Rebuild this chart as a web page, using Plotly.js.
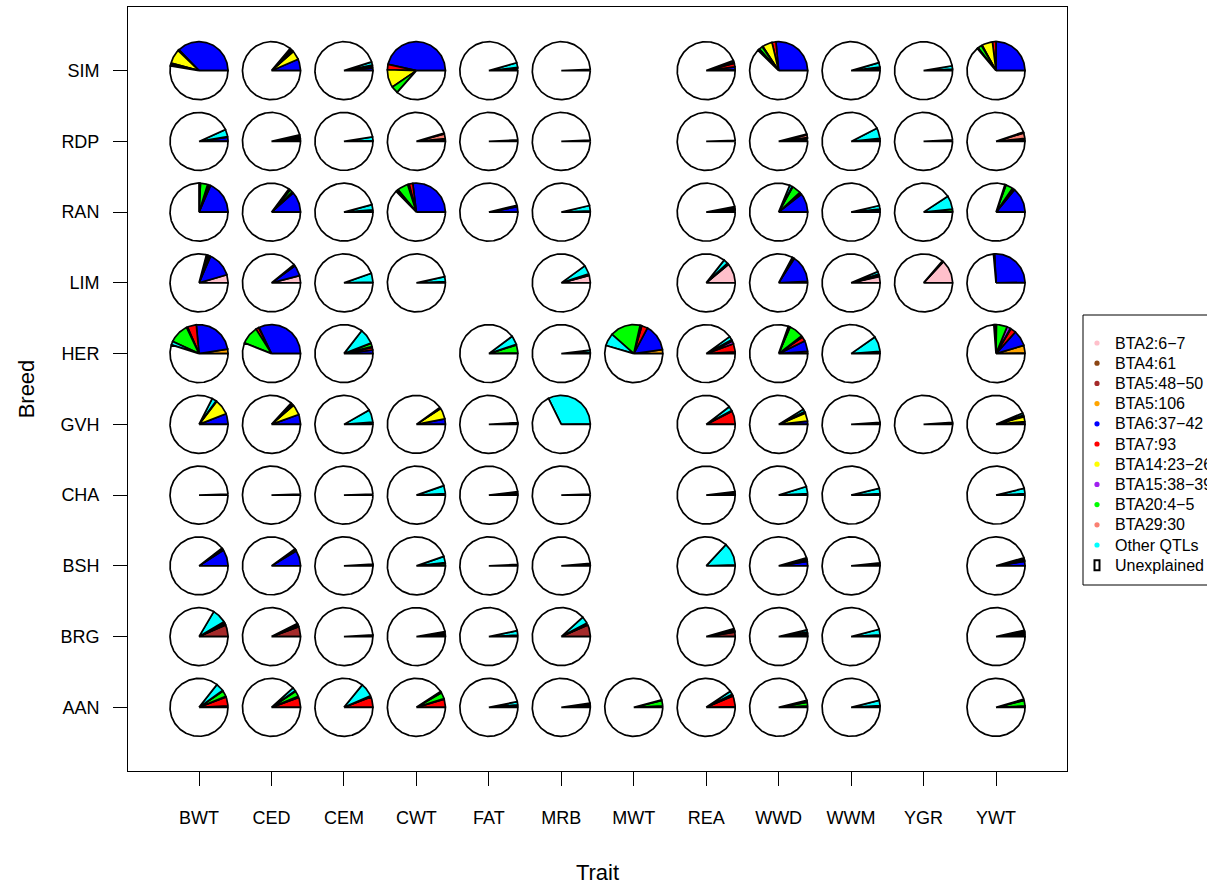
<!DOCTYPE html>
<html>
<head>
<meta charset="utf-8">
<script src="https://cdn.plot.ly/plotly-3.0.1.min.js"></script>
<style>html,body{margin:0;padding:0;background:#fff;}#chart{width:1207px;height:885px;}</style>
</head>
<body>
<div id="chart"></div>
<script>
// ---------------- DATA ----------------
const traits = ['BWT','CED','CEM','CWT','FAT','MRB','MWT','REA','WWD','WWM','YGR','YWT'];
const breeds = ['SIM','RDP','RAN','LIM','HER','GVH','CHA','BSH','BRG','AAN']; // top to bottom
const qtlNames = ['BTA2:6\u22127','BTA4:61','BTA5:48\u221250','BTA5:106','BTA6:37\u221242','BTA7:93',
                  'BTA14:23\u221226','BTA15:38\u221239','BTA20:4\u22125','BTA29:30','Other QTLs','Unexplained'];
const qtlColors = ['#FFC0CB','#8B4513','#A52A2A','#FFA500','#0000FF','#FF0000',
                   '#FFFF00','#A020F0','#00FF00','#FA8072','#00FFFF','#FFFFFF'];

// 1 = breed x trait combination analysed (pie drawn)
//              BWT CED CEM CWT FAT MRB MWT REA WWD WWM YGR YWT
const analysed = [
  [1,1,1,1,1,1,0,1,1,1,1,1], // SIM
  [1,1,1,1,1,1,0,1,1,1,1,1], // RDP
  [1,1,1,1,1,1,0,1,1,1,1,1], // RAN
  [1,1,1,1,0,1,0,1,1,1,1,1], // LIM
  [1,1,1,0,1,1,1,1,1,1,0,1], // HER
  [1,1,1,1,1,1,0,1,1,1,1,1], // GVH
  [1,1,1,1,1,1,0,1,1,1,0,1], // CHA
  [1,1,1,1,1,1,0,1,1,1,0,1], // BSH
  [1,1,1,1,1,1,0,1,1,1,0,1], // BRG
  [1,1,1,1,1,1,1,1,1,1,0,1]  // AAN
];

// % of genetic variance explained, rows = breeds (SIM..AAN), cols = traits
const BTA2_6_7 = [
  [0,0,0,0,0,0,0,0.3,0,0,0,0],
  [0,0,0,0,0,0,0,0,0,0,0,0],
  [0,0,0,0,0,0,0,0,0,0,0,0],
  [4.5,4.0,0,0,0,4.2,0,11.0,0.4,3.5,13.0,0.3],
  [0,0,0,0,0,0,0,0,0,0,0,0],
  [0,0,0,0,0,0,0,0,0,0,0,0],
  [0,0,0,0,0,0,0,0,0,0,0,0],
  [0,0,0,0,0,0,0,0,0,0,0,0],
  [0,0,0,0,0,0,0,0,0,0,0,0],
  [0,0,0,0,0,0,0,0,0,0,0,0]
];
const BTA4_61 = [
  [0,0,0,0,0.4,0,0,0,0,0,0,0],
  [0,0.4,0,0,0,0,0,0,0.4,0,0,0],
  [0,0,0,0,0,0,0,0.4,0,0,0,0],
  [0,0,0,0,0,0,0,0,0,0,0,0],
  [0,0,0,0,0,0,0,0,0,0,0,0.4],
  [0,0,0,0,0,0,0,0,0,0,0,0],
  [0,0,0,0,0,0,0,0,0,0,0,0],
  [0,0,0,0,0,0,0,0,0,0,0,0],
  [0,0,0,0,0,0,0,0,0,0,0,0],
  [0.4,0,0,0,0,0,0,0.4,0,0,0,0]
];
const BTA5_48_50 = [
  [0,0,0,0,0,0,0,0.3,0,0,0,0],
  [0,0,0,0,0,0,0,0,0.4,0,0,0.4],
  [0,0,0,0,0,0,0,0.4,0,0,0,0],
  [0,0,0,0,0,0,0,0,0,0,0,0],
  [0,0,0,0,0,0,0,0,0,0,0,0],
  [0,0,0,0,0,0,0,0,0,0,0,0],
  [0,0,0,0,0,0,0,0,0,0,0,0],
  [0,0,0,0,0,0,0,0,0,0,0,0],
  [6.5,5.5,0,0,0,6.5,0,2.5,0,0,0,0],
  [0,0,0,0,0,0,0,0,0,0,0,0]
];
const BTA5_106 = [
  [0,0,0,0,0,0,0,0,0,0,0,0],
  [0.3,0,0,0,0,0,0,0,0.4,0,0,0.5],
  [0,0,0,0,0,0,0,0,0,0,0,0],
  [0,0,0,0,0,0,0,0,0.4,0,0,0],
  [2.5,0,0,0,0,0,2.2,0.4,1.2,0,0,4.2],
  [0,0,0,0,0,0,0,0,0,0,0,0],
  [0,0,0,0,0,0,0,0,0,0,0,0],
  [0,0,0,0,0,0,0,0,0,0,0,0],
  [0,0,0,0,0,0,0,0,0,0,0,0],
  [0.4,0,0,0,0,0,0,0,0,0,0,0]
];
const BTA6_37_42 = [
  [37.2,6.5,1.5,46.5,0.4,0,0,1.5,26.5,0.4,0.4,25.0],
  [2.0,0.8,0,0.8,0,0,0,0,0.4,0.5,0,0.4],
  [18.5,11.5,0.8,27.0,3.0,0.3,0,0.5,10.5,1.2,0.5,14.0],
  [14.0,6.0,0,0.3,0,0.4,0,0.5,15.0,0.5,0,25.5],
  [24.0,32.0,2.0,0,0.4,0,15.0,0.6,6.0,0.3,0,8.8],
  [6.0,5.5,0.3,3.0,0,0,0,0,1.8,0,0,1.2],
  [0,0,0,0,0,0,0,0,0,0,0,0],
  [9.0,8.5,0,0,0,0,0,0,2.5,0.3,0,2.5],
  [0.5,0.5,0,0.4,0,0.4,0,0.5,0.5,0,0,0.8],
  [0,0,0,0,0.4,0.4,0.4,0,0,0,0,0]
];
const BTA7_93 = [
  [0.6,0,0.4,3.0,0,0,0,2.0,2.2,0,0,2.0],
  [0,0,0,0,0,0,0,0,0,0,0,0],
  [1.0,0.4,0,2.0,0,0,0,0,1.0,0,0,1.0],
  [0.4,0,0,0,0,0,0,0,0.5,0,0,0],
  [5.0,2.0,1.5,0,0,0,3.3,4.5,2.5,0,0,3.0],
  [0,0,0,0,0,0,0,7.5,0,0,0,0],
  [0,0,0,0,0,0,0,0,0,0,0,0],
  [0,0,0,0,0,0,0,0,0,0,0,0],
  [0,0,0,0,0,0,0,0,0,0,0,0.4],
  [5.0,5.5,5.8,4.5,0,0,0.4,6.0,0.4,0,0,0.8]
];
const BTA14_23_26 = [
  [8.0,5.0,0.4,10.0,0.4,0,0,0,5.5,1.0,0,6.0],
  [0,0.4,0,0,0,0,0,0,0,0,0,0],
  [0.4,0.4,0,0.5,0,0,0,0,0.4,0,0,0.4],
  [1.0,0.4,0,0,0,0.4,0,0,0,0.5,0,0],
  [0.3,0,0,0,0,0,0.5,0,0.4,0,0,0.4],
  [8.5,5.8,0,6.2,0,0,0,0,4.5,0,0,3.0],
  [0,0,0,0,0,0,0,0,0,0,0,0],
  [0,0,0,0,0,0,0,0,0,0,0,0],
  [0.5,0.5,0,0.8,0,0,0,0,1.0,0,0,0.8],
  [0.4,0.4,0.4,0.4,0,0,0,0,0.4,0,0,0]
];
const BTA15_38_39 = [
  [0.4,0.4,0,0,0,0,0,0,0.4,0,0,0.4],
  [0,0,0,0,0,0,0,0,0,0,0,0],
  [0.3,0,0,0.4,0,0,0,0,0,0,0,0],
  [0,0,0,0,0,0,0,0,0,0,0,0],
  [0.3,0,0.4,0,0,0,0.5,1.5,0.4,0,0,2.0],
  [0,0,0,0,0,0,0,0,0,0,0,0],
  [0,0,0,0,0,0,0,0,0,0,0,0],
  [0,0,0,0,0,0,0,0,0,0,0,0],
  [0,0,0,0,0,0,0,0,0,0,0,0],
  [0,0.4,0,0,0,0,0,0,0,0,0,0]
];
const BTA20_4_5 = [
  [0.6,0.8,0.8,4.0,0.6,0.4,0,0.6,2.0,0.6,0.5,2.2],
  [0.4,0.6,0.5,0.4,0.4,0.4,0,0.4,0.5,0.8,0.4,0.4],
  [4.0,1.5,0.4,6.0,0.4,0.4,0,0.6,5.0,0.5,1.2,4.0],
  [0.5,0,0.4,0.4,0,0,0,0.4,0.4,0.4,0.3,0.3],
  [11.0,10.0,1.8,0,4.5,0.5,17.0,0.6,8.0,0.5,0,6.0],
  [0.5,0.6,0.5,0.4,0.5,0.3,0,0.4,0.6,0.6,0.6,0.6],
  [0.3,0.3,0.3,0.4,0.5,0.3,0,0.5,0.4,0.4,0,0.4],
  [0.5,0.5,0.5,1.2,0.4,0.3,0,0.3,0.6,0.5,0,0.6],
  [0.5,0.5,0.4,0.4,0.4,0.4,0,0.5,0.5,0.5,0,0.5],
  [3.3,3.0,0.4,3.5,0.6,0.6,3.0,0.5,2.0,0.4,0,3.0]
];
const BTA29_30 = [
  [0,0.4,0,0,0,0,0,0,0.4,0,0,0],
  [0,0.4,0,3.0,0,0,0,0,1.5,0.4,0,3.0],
  [0.3,0.4,0,0.6,0,0,0,0.4,0.4,0,0,0],
  [0,0,0,0,0,0,0,0,0,0,0,0],
  [0,0,0.3,0,0.3,0.3,0,0.4,0.3,0.4,0,0.4],
  [0,0.3,0.4,0,0,0,0,0,0.4,0,0,0.4],
  [0,0,0,0.4,0.4,0,0,0.4,0.4,0.4,0,0.4],
  [0.5,0.5,0,0.6,0,0.3,0,0.3,0.6,0.4,0,0.6],
  [0.5,0.5,0,0.4,0.4,0.4,0,0.5,0.5,0.4,0,0.5],
  [0.4,0.4,0,0.4,0.4,0.5,0.4,0.5,0.5,0.5,0,0.4]
];
const OTHER_QTLS = [
  [0.6,0.8,1.8,0,2.6,0.3,0,1.0,0.6,2.5,1.8,0.6],
  [4.0,1.0,2.0,0.4,0.4,0.3,0,0.2,0.5,5.8,0.4,0.6],
  [0.5,0.6,3.0,0.8,0.4,3.0,0,0.8,1.5,2.0,7.5,0.6],
  [0.5,0.5,5.0,2.8,0,5.0,0,2.5,0.5,1.5,0.4,0.3],
  [2.0,0,8.5,0,5.0,1.2,7.0,2.0,0.8,8.5,0,1.0],
  [2.5,1.0,7.0,0.4,0.5,32.0,0,2.5,1.5,0.5,0.5,1.2],
  [0.3,0.3,0.3,4.5,1.0,0.3,0,1.0,4.0,3.0,0,3.0],
  [0.5,0.5,0.5,3.5,0.4,0.8,0,12.5,0.8,0.5,0,0.8],
  [8.0,0,0.5,0.8,2.5,4.0,0,0.4,1.2,3.2,0,0.5],
  [4.5,2.0,7.5,0.5,1.8,0.8,0,2.0,0.6,3.0,0,0.4]
];
const qtlSeries = [BTA2_6_7,BTA4_61,BTA5_48_50,BTA5_106,BTA6_37_42,BTA7_93,
                   BTA14_23_26,BTA15_38_39,BTA20_4_5,BTA29_30,OTHER_QTLS];

// ---------------- LAYOUT GEOMETRY ----------------
const W = 1207, H = 885;
const M = {l:128, r:140, t:7, b:114};
const xRange = [0.02, 12.98], yRange = [0.1, 10.9];
const pw = W - M.l - M.r, ph = H - M.t - M.b;
const pieR = 0.4;                                     // radius in x-axis units
const rY = pieR * (pw/(xRange[1]-xRange[0])) / (ph/(yRange[1]-yRange[0]));

// ---------------- BUILD SLICES ----------------
const nCat = qtlNames.length;
const px = [], py = [];
for (let k = 0; k < nCat; k++) { px.push([]); py.push([]); }

function addSlice(k, cx, cy, a0, a1) {
  const n = Math.max(2, Math.ceil((a1 - a0) / 1.5) + 1);
  px[k].push(cx); py[k].push(cy);
  for (let i = 0; i < n; i++) {
    const a = (a0 + (a1 - a0) * i / (n - 1)) * Math.PI / 180;
    px[k].push(cx + pieR * Math.cos(a));
    py[k].push(cy + rY * Math.sin(a));
  }
  px[k].push(cx); py[k].push(cy);
  px[k].push(null); py[k].push(null);
}

breeds.forEach((b, r) => {
  traits.forEach((t, c) => {
    if (!analysed[r][c]) return;
    const cx = c + 1, cy = breeds.length - r;
    let cum = 0;
    qtlSeries.forEach((s, k) => {
      const v = s[r][c];
      if (v > 0) {
        addSlice(k, cx, cy, cum * 3.6, (cum + v) * 3.6);
        cum += v;
      }
    });
    addSlice(nCat - 1, cx, cy, cum * 3.6, 360);
  });
});

const traces = [];
for (let k = 0; k < nCat; k++) {
  traces.push({
    type: 'scatter', mode: 'lines', x: px[k], y: py[k], name: qtlNames[k],
    fill: 'toself', fillcolor: qtlColors[k],
    line: {color: '#000', width: 1.7},
    hoverinfo: 'skip', showlegend: false
  });
}

// ---------------- LEGEND (drawn like R's legend box) ----------------
const FONT = 'Liberation Sans, Arial, Helvetica, sans-serif';
const toPX = x => (x - M.l) / pw;           // pixel -> paper x
const toPY = y => 1 - (y - M.t) / ph;       // pixel -> paper y
const legLeft = 1083, legTop = 315, legBottom = 585, legRow0 = 343, legStep = 20.2;
const legDotX = 1097, legTextX = 1113;
const shapes = [{
  type: 'rect', xref: 'paper', yref: 'paper',
  x0: toPX(legLeft), x1: toPX(1300), y0: toPY(legBottom), y1: toPY(legTop),
  line: {color: '#000', width: 1}, fillcolor: 'rgba(0,0,0,0)', layer: 'above'
}];
const annotations = [];
qtlNames.forEach((nm, k) => {
  const yc = legRow0 + k * legStep;
  if (k < nCat - 1) {
    shapes.push({type: 'circle', xref: 'paper', yref: 'paper',
      x0: toPX(legDotX - 2.6), x1: toPX(legDotX + 2.6), y0: toPY(yc + 2.6), y1: toPY(yc - 2.6),
      line: {width: 0}, fillcolor: qtlColors[k]});
  } else {
    shapes.push({type: 'rect', xref: 'paper', yref: 'paper',
      x0: toPX(legDotX - 2.5), x1: toPX(legDotX + 2.5), y0: toPY(yc + 5), y1: toPY(yc - 5),
      line: {width: 2, color: '#000'}, fillcolor: '#fff'});
  }
  annotations.push({xref: 'paper', yref: 'paper', x: toPX(legTextX), y: toPY(yc),
    xanchor: 'left', yanchor: 'middle', showarrow: false, text: nm,
    font: {size: 16, family: FONT, color: '#000'}});
});

const layout = {
  width: W, height: H,
  margin: {l: M.l, r: M.r, t: M.t, b: M.b, autoexpand: false},
  paper_bgcolor: '#fff', plot_bgcolor: '#fff',
  font: {family: FONT, color: '#000'},
  showlegend: false,
  xaxis: {
    range: xRange, tickvals: traits.map((t, i) => i + 1), ticktext: traits,
    ticks: 'outside', ticklen: 14, tickcolor: '#000', tickwidth: 1,
    ticklabelstandoff: 16,
    showline: true, mirror: true, linecolor: '#000', linewidth: 1,
    showgrid: false, zeroline: false, fixedrange: true,
    tickfont: {size: 18, family: FONT, color: '#000'},
    title: {text: 'Trait', font: {size: 22, family: FONT, color: '#000'}, standoff: 41}
  },
  yaxis: {
    range: yRange, tickvals: breeds.map((b, i) => breeds.length - i), ticktext: breeds,
    ticks: 'outside', ticklen: 14, tickcolor: '#000', tickwidth: 1,
    ticklabelstandoff: 10,
    showline: true, mirror: true, linecolor: '#000', linewidth: 1,
    showgrid: false, zeroline: false, fixedrange: true,
    tickfont: {size: 18, family: FONT, color: '#000'},
    title: {text: 'Breed', font: {size: 22, family: FONT, color: '#000'}, standoff: 19}
  },
  shapes: shapes,
  annotations: annotations
};

Plotly.newPlot('chart', traces, layout, {staticPlot: true, displayModeBar: false});
</script>
</body>
</html>
